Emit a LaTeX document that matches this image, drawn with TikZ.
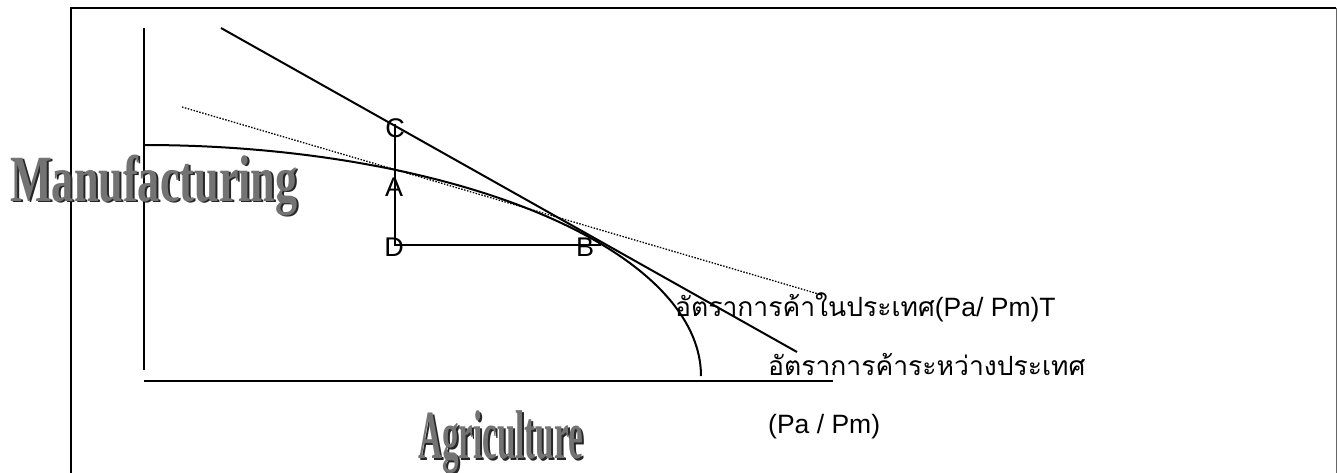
\documentclass[tikz,border=0pt]{standalone}
\usepackage{fontspec}
\setmainfont{Liberation Sans}
\newfontfamily\thaifont[Script=Thai]{Loma}
\newfontfamily\wordart{Liberation Serif}
\begin{document}
\begin{tikzpicture}[x=1pt,y=-1pt,
  axisline/.style={line width=2.2pt, black},
  plainline/.style={line width=2pt, black},
  dotline/.style={line width=1.3pt, black, dash pattern=on 1.5pt off 1.5pt},
  lbl/.style={font=\fontsize{27}{28}\selectfont, inner sep=0pt},
  thai/.style={font=\fontsize{26.5}{30}\selectfont, inner sep=0pt, anchor=base west},
  wa/.style={inner sep=0pt, anchor=base west},
]
\useasboundingbox (0,0) rectangle (1338,473);
\fill[white] (0,0) rectangle (1338,473);
% frame
\draw[line width=2.2pt] (71,473) -- (71,8) -- (1336,8);
\draw[line width=1pt, black!60] (1336,8) -- (1336,473);
% axes
\coordinate (ytop) at (144,28);
\coordinate (ybot) at (144,370);
\coordinate (xl) at (144,381);
\coordinate (xr) at (833,381);
\draw[axisline] (ytop) -- (ybot);
\draw[axisline] (xl) -- (xr);
% production possibility curve
\draw[plainline] plot[domain=90:0, samples=120] ({144+557*cos(\x)},{376-231*sin(\x)});
% trade lines
\coordinate (s1) at (221,28);
\coordinate (s2) at (797,352);
\draw[plainline] (s1) -- (s2);
\coordinate (d1) at (182,107);
\coordinate (d2) at (822,295);
\draw[dotline] (d1) -- (d2);
% C-D-B
\coordinate (ctop) at (395,124);
\coordinate (dpt) at (395,245);
\coordinate (bpt) at (601,245);
\draw[plainline] (ctop) -- (dpt) -- (bpt);
% point labels
\node[lbl] (C) at (395,128) {C};
\node[lbl] (A) at (394,187) {A};
\node[lbl] (D) at (394,247) {D};
\node[lbl] (B) at (585,247) {B};
% Thai labels
\node[thai] (t1) at (675,316) {{\thaifont อัตราการค้าในประเทศ}(Pa/ Pm)T};
\node[thai] (t2) at (768,375) {{\thaifont อัตราการค้าระหว่างประเทศ}};
\node[thai] (t3) at (768,433) {(Pa / Pm)};
% word-art axis titles
\node[wa, text=black!85] (m0) at (12,203) {\scalebox{0.67}[1]{\wordart\bfseries\fontsize{66}{70}\selectfont Manufacturing}};
\node[wa, text=black!55] (m1) at (10,201) {\scalebox{0.67}[1]{\wordart\bfseries\fontsize{66}{70}\selectfont Manufacturing}};
\node[wa, text=black!85] (g0) at (420,460) {\scalebox{0.48}[1]{\wordart\bfseries\fontsize{69}{72}\selectfont Agriculture}};
\node[wa, text=black!55] (g1) at (418,458) {\scalebox{0.48}[1]{\wordart\bfseries\fontsize{69}{72}\selectfont Agriculture}};
\end{tikzpicture}
\end{document}
